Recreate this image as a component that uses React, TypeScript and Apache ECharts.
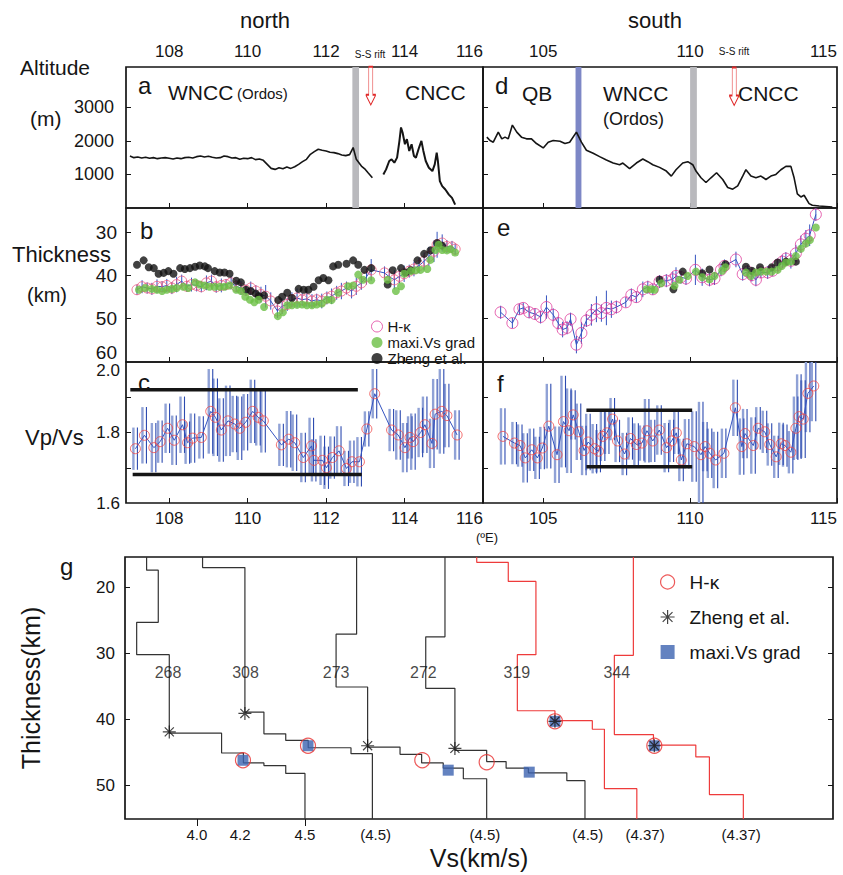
import React, { useEffect, useRef } from 'react';
import * as echarts from 'echarts';

const FONT = '"Liberation Sans", Arial, Helvetica, sans-serif';

// ---------- axis ranges and tick labels ----------
const northRange = [106.9, 116.0];
const southRange = [102.95, 115.0];
const northTicks = [108, 110, 112, 114, 116];
const southTicks = [105, 110, 115];
const altRange = [0, 4200];
const altTicks = [1000, 2000, 3000];
const thickRange = [24.4, 60];
const thickTicks = [30, 40, 50];
const thickLabels = [30, 40, 50, 60];
const vpvsRange = [1.6, 2.0];
const vpvsTicks = [1.7, 1.8, 1.9];
const vpvsLabels = [1.6, 1.8, 2.0];
const gDepthRange = [15.4, 55.1];
const gDepthTicks = [20, 30, 40, 50];
const gVsRange = [3.667, 6.944];
const gVsLabelPos = [4.0, 4.2, 4.5, 4.827, 5.333, 5.809, 6.074, 6.519];
const gVsLabelText = ['4.0', '4.2', '4.5', '(4.5)', '(4.5)', '(4.5)', '(4.37)', '(4.37)'];
const gVsTickPos = [4.0, 4.5];

// ---------- panel a / d : topography [lon, altitude m] ----------
const topoNorthWest = [
  [107.0, 1550], [107.1, 1500], [107.2, 1520], [107.3, 1490], [107.4, 1510], [107.5, 1480], [107.6, 1500],
  [107.7, 1470], [107.8, 1490], [107.9, 1500], [108.0, 1480], [108.1, 1460], [108.2, 1490], [108.3, 1470],
  [108.4, 1500], [108.5, 1510], [108.6, 1490], [108.7, 1530], [108.8, 1550], [108.9, 1520], [109.0, 1540],
  [109.1, 1510], [109.2, 1490], [109.3, 1500], [109.4, 1550], [109.5, 1530], [109.6, 1490], [109.7, 1500],
  [109.8, 1450], [109.9, 1480], [110.0, 1470], [110.1, 1500], [110.2, 1440], [110.3, 1460], [110.4, 1420],
  [110.5, 1300], [110.6, 1180], [110.7, 1150], [110.8, 1200], [110.9, 1170], [111.0, 1220], [111.1, 1180],
  [111.2, 1230], [111.3, 1300], [111.4, 1380], [111.5, 1450], [111.6, 1600], [111.7, 1680], [111.8, 1750],
  [111.9, 1720], [112.0, 1700], [112.1, 1660], [112.2, 1650], [112.3, 1620], [112.4, 1580], [112.5, 1560],
  [112.6, 1590], [112.69, 1800], [112.77, 1450], [112.9, 1250], [113.0, 1150], [113.07, 1050], [113.18, 900],
];
const topoNorthEast = [
  [113.46, 1000], [113.53, 1150], [113.61, 1400], [113.67, 1450], [113.74, 1350], [113.81, 1500], [113.87, 2000],
  [113.91, 2400], [113.95, 2250], [114.01, 1900], [114.06, 2050], [114.12, 1700], [114.18, 1900], [114.24, 1550],
  [114.29, 1500], [114.37, 1800], [114.43, 2000], [114.48, 1700], [114.54, 1400], [114.62, 1200], [114.71, 1100],
  [114.77, 1300], [114.82, 1650], [114.85, 1400], [114.9, 800], [114.96, 650], [115.04, 550], [115.13, 400],
  [115.21, 300], [115.29, 100],
];
const topoSouth = [
  [103.08, 2110], [103.19, 2010], [103.30, 1960], [103.47, 2260], [103.59, 2060], [103.70, 2110], [103.81, 2060],
  [103.95, 2470], [104.10, 2260], [104.26, 2110], [104.43, 2060], [104.60, 2060], [104.77, 1920], [105.00, 1790],
  [105.17, 1960], [105.34, 2010], [105.57, 1990], [105.74, 1920], [105.90, 1960], [106.13, 2260], [106.30, 1960],
  [106.47, 1720], [106.70, 1630], [106.92, 1530], [107.15, 1430], [107.38, 1340], [107.60, 1290], [107.71, 1340],
  [107.94, 1170], [108.17, 1340], [108.39, 1460], [108.56, 1380], [108.73, 1290], [108.96, 1210], [109.19, 1100],
  [109.36, 950], [109.52, 1140], [109.75, 1340], [109.92, 1380], [110.09, 1290], [110.20, 1100], [110.37, 900],
  [110.54, 760], [110.71, 900], [110.90, 1050], [111.11, 850], [111.28, 610], [111.45, 560], [111.62, 660],
  [111.79, 950], [111.90, 1140], [112.07, 950], [112.24, 900], [112.41, 950], [112.58, 850], [112.75, 950],
  [112.92, 1000], [113.09, 1140], [113.26, 1240], [113.43, 1240], [113.54, 900], [113.65, 420], [113.77, 330],
  [113.88, 380], [114.05, 130], [114.16, 80], [114.39, 60], [114.84, 30],
];
const boundaryNorth = [[112.67, 112.84]]; // grey (S-S)
const boundarySouthBlue = [[106.1, 106.3]];
const boundarySouthGrey = [[110.0, 110.23]];
const riftArrowNorth = [113.14, 3640];
const riftArrowSouth = [111.5, 3620];

// ---------- panel b / e : crustal thickness [lon, km, err] ----------
const hkThickNorth = [
  [107.18, 43.3, 1.2], [107.31, 42.6, 1.5], [107.44, 42.9, 1.3], [107.56, 43.1, 1.4], [107.69, 42.5, 1.6],
  [107.82, 42.6, 1.3], [107.94, 42.3, 1.5], [108.07, 42.9, 1.4], [108.19, 42.1, 1.8], [108.32, 41.3, 1.5],
  [108.45, 42.5, 1.3], [108.57, 42.1, 1.6], [108.70, 42.3, 1.4], [108.82, 42.6, 1.3], [108.95, 41.7, 1.7],
  [109.08, 41.3, 1.5], [109.20, 42.6, 1.4], [109.33, 42.3, 1.6], [109.45, 42.1, 1.3], [109.58, 41.7, 1.5],
  [109.71, 42.5, 1.4], [109.83, 42.9, 1.6], [109.96, 43.4, 1.3], [110.08, 42.9, 1.5], [110.21, 43.6, 1.4],
  [110.34, 44.4, 1.8], [110.46, 44.8, 2.6], [110.59, 45.9, 2.0], [110.76, 48.2, 1.6], [110.88, 47.1, 1.8],
  [111.01, 46.7, 1.5], [111.13, 45.6, 1.7], [111.26, 45.2, 2.2], [111.39, 45.6, 1.5], [111.51, 45.4, 1.8],
  [111.64, 45.9, 1.6], [111.76, 45.6, 1.4], [111.89, 45.9, 1.7], [112.02, 45.2, 1.5], [112.14, 44.8, 1.8],
  [112.27, 44.0, 1.6], [112.39, 43.6, 1.9], [112.52, 42.9, 1.5], [112.65, 43.6, 1.7], [112.77, 42.5, 2.0],
  [112.90, 41.7, 1.6], [113.03, 40.3, 1.8], [113.15, 38.7, 2.5], [113.49, 39.4, 1.5], [113.61, 40.3, 1.8],
  [113.74, 41.0, 2.2], [113.87, 40.2, 1.6], [113.99, 39.6, 1.9], [114.12, 39.0, 1.5], [114.24, 38.5, 1.7],
  [114.37, 37.7, 1.8], [114.50, 36.7, 2.0], [114.62, 35.6, 2.2], [114.75, 34.4, 2.5], [114.83, 32.9, 3.0],
  [114.96, 32.5, 2.0], [115.08, 33.3, 1.5], [115.21, 33.4, 1.4], [115.29, 33.9, 1.3],
];
const gradThickNorth = [
  [107.23, 43.3], [107.39, 42.9], [107.56, 43.1], [107.69, 43.3], [107.82, 43.6], [107.94, 43.3], [108.07, 43.1],
  [108.19, 42.9], [108.36, 42.6], [108.49, 42.9], [108.66, 41.6], [108.78, 42.1], [108.91, 42.3], [109.03, 42.6],
  [109.16, 42.6], [109.29, 42.6], [109.41, 42.6], [109.54, 42.3], [109.71, 43.3], [109.83, 43.6], [109.94, 44.9],
  [110.06, 45.6], [110.17, 46.2], [110.28, 45.6], [110.42, 47.3], [110.77, 49.4], [110.90, 48.5], [111.01, 46.9],
  [111.13, 46.9], [111.26, 46.8], [111.39, 46.7], [111.51, 46.9], [111.64, 46.9], [111.76, 46.7], [111.89, 46.5],
  [112.02, 45.6], [112.14, 45.7], [112.31, 44.0], [112.56, 42.5], [112.69, 42.3], [112.82, 39.8], [112.94, 41.0],
  [113.15, 41.1], [113.57, 41.0], [113.78, 43.6], [113.91, 42.5], [113.99, 39.6], [114.16, 39.0], [114.29, 38.8],
  [114.41, 38.7], [114.58, 38.5], [114.66, 36.4], [114.79, 34.1], [114.87, 32.9], [114.96, 34.1], [115.08, 34.2],
  [115.17, 33.9], [115.29, 34.7],
];
const zhengThickNorth = [
  [107.18, 37.5], [107.35, 36.5], [107.48, 38.1], [107.61, 38.3], [107.73, 39.6], [107.86, 39.4], [107.98, 39.0],
  [108.11, 39.6], [108.28, 38.3], [108.40, 38.5], [108.53, 38.3], [108.66, 38.0], [108.78, 37.7], [108.91, 37.9],
  [108.99, 38.3], [109.16, 39.0], [109.29, 39.3], [109.41, 39.3], [109.54, 39.6], [109.71, 41.2], [109.83, 41.6],
  [109.96, 43.3], [110.08, 43.6], [110.21, 44.2], [110.29, 44.8], [110.42, 44.6], [110.78, 45.7], [110.88, 44.9],
  [111.01, 44.0], [111.13, 45.2], [111.30, 43.1], [111.43, 43.3], [111.55, 43.3], [111.68, 42.6], [111.81, 41.1],
  [111.93, 40.6], [112.06, 41.1], [112.18, 37.9], [112.31, 37.5], [112.52, 37.3], [112.69, 36.5], [112.82, 37.5],
  [112.98, 38.7], [113.15, 38.3], [113.57, 42.1], [113.70, 38.8], [113.91, 38.3], [114.03, 39.3], [114.16, 38.8],
  [114.33, 36.5], [114.50, 35.0], [114.66, 34.2], [114.83, 32.5], [114.96, 33.1],
];
const hkThickSouth = [
  [103.55, 48.5, 1.5], [103.95, 51.0, 1.2], [104.19, 47.8, 1.3], [104.32, 47.5, 1.2], [104.52, 48.5, 1.4],
  [104.72, 48.9, 1.3], [104.91, 49.6, 1.5], [105.11, 47.3, 2.7], [105.34, 49.1, 1.5], [105.51, 51.0, 1.5],
  [105.66, 52.5, 1.8], [105.81, 52.1, 1.5], [105.93, 50.1, 1.5], [106.13, 56.0, 2.0], [106.30, 53.3, 2.5],
  [106.47, 50.4, 1.5], [106.64, 49.1, 2.5], [106.81, 47.8, 3.0], [106.98, 48.7, 2.0], [107.15, 47.5, 4.0],
  [107.32, 47.8, 2.0], [107.49, 47.3, 1.5], [107.81, 46.2, 1.2], [108.00, 44.5, 1.5], [108.17, 45.0, 1.3],
  [108.39, 43.2, 1.8], [108.56, 42.7, 1.5], [108.73, 43.2, 1.3], [108.96, 41.4, 1.5], [109.19, 41.2, 1.5],
  [109.41, 40.9, 1.8], [109.52, 40.1, 2.0], [109.69, 40.4, 1.5], [109.86, 40.7, 1.5], [110.18, 38.7, 3.5],
  [110.41, 40.4, 2.0], [110.66, 41.0, 1.5], [110.83, 40.7, 1.5], [111.05, 38.7, 1.5], [111.17, 37.8, 1.5],
  [111.56, 36.3, 1.8], [111.79, 39.7, 1.5], [111.96, 39.1, 1.5], [112.10, 39.9, 1.5], [112.24, 41.0, 1.5],
  [112.41, 39.3, 1.3], [112.64, 39.3, 1.5], [112.81, 38.9, 1.3], [112.98, 37.6, 1.5], [113.14, 36.8, 1.5],
  [113.26, 36.1, 1.5], [113.43, 36.6, 1.8], [113.60, 34.9, 2.0], [113.77, 32.8, 2.0], [113.94, 31.5, 2.0],
  [114.07, 30.7, 2.5], [114.28, 25.9, 1.5],
];
const gradThickSouth = [
  [108.51, 43.2], [108.68, 43.2], [108.79, 43.3], [109.02, 41.8], [109.47, 42.4], [109.64, 41.0], [109.92, 40.1],
  [110.20, 39.1], [110.41, 40.4], [110.66, 40.9], [110.83, 40.1], [111.09, 38.9], [111.20, 38.1], [111.90, 39.3],
  [112.07, 40.1], [112.24, 39.3], [112.41, 39.1], [112.60, 39.1], [112.78, 39.1], [112.98, 38.7], [113.12, 37.8],
  [113.26, 37.0], [113.43, 36.8], [113.60, 35.5], [113.77, 33.8], [113.94, 32.6], [114.08, 31.8], [114.28, 28.9],
];
const zhengThickSouth = [
  [108.96, 41.0], [109.43, 43.2], [109.75, 39.1], [110.41, 39.5], [110.66, 38.6], [111.20, 37.4], [111.90, 38.0],
  [112.10, 38.9], [112.38, 38.1], [112.78, 38.1], [112.98, 37.0], [113.26, 36.8], [113.60, 36.8],
];

// ---------- panel c / f : Vp/Vs [lon, Vp/Vs, err] ----------
const vpvsNorth = [
  [107.14, 1.754, 0.06], [107.37, 1.792, 0.08], [107.61, 1.757, 0.07], [107.77, 1.774, 0.06], [107.96, 1.812, 0.07],
  [108.13, 1.778, 0.07], [108.34, 1.822, 0.08], [108.47, 1.771, 0.06], [108.60, 1.784, 0.07], [108.82, 1.786, 0.06],
  [109.06, 1.860, 0.12], [109.18, 1.843, 0.11], [109.33, 1.807, 0.09], [109.50, 1.833, 0.1], [109.67, 1.824, 0.08],
  [109.80, 1.812, 0.09], [109.95, 1.829, 0.08], [110.13, 1.860, 0.09], [110.27, 1.843, 0.08], [110.40, 1.833, 0.09],
  [110.86, 1.765, 0.06], [111.05, 1.781, 0.08], [111.20, 1.771, 0.08], [111.42, 1.729, 0.07], [111.63, 1.762, 0.08],
  [111.69, 1.721, 0.06], [111.91, 1.721, 0.07], [112.01, 1.700, 0.06], [112.16, 1.729, 0.06], [112.33, 1.748, 0.07],
  [112.52, 1.698, 0.05], [112.66, 1.717, 0.06], [112.85, 1.717, 0.07], [113.04, 1.810, 0.05], [113.24, 1.910, 0.07],
  [113.67, 1.807, 0.06], [113.84, 1.793, 0.07], [114.01, 1.757, 0.07], [114.14, 1.786, 0.06], [114.22, 1.774, 0.08],
  [114.41, 1.800, 0.07], [114.52, 1.822, 0.08], [114.70, 1.769, 0.07], [114.78, 1.852, 0.1], [114.95, 1.860, 0.12],
  [115.08, 1.848, 0.09], [115.34, 1.793, 0.07],
];
const vpvsSouth = [
  [103.63, 1.789, 0.08], [104.02, 1.770, 0.06], [104.21, 1.763, 0.06], [104.39, 1.728, 0.07], [104.61, 1.751, 0.06],
  [104.80, 1.728, 0.06], [104.97, 1.756, 0.06], [105.19, 1.818, 0.12], [105.47, 1.737, 0.08], [105.69, 1.831, 0.13],
  [105.88, 1.805, 0.12], [106.02, 1.850, 0.07], [106.21, 1.802, 0.08], [106.39, 1.749, 0.07], [106.53, 1.773, 0.08],
  [106.75, 1.754, 0.07], [106.88, 1.747, 0.06], [107.03, 1.789, 0.07], [107.17, 1.799, 0.06], [107.36, 1.838, 0.06],
  [107.53, 1.776, 0.06], [107.77, 1.739, 0.06], [107.97, 1.783, 0.06], [108.17, 1.766, 0.06], [108.36, 1.770, 0.05],
  [108.53, 1.805, 0.09], [108.73, 1.776, 0.06], [108.95, 1.807, 0.07], [109.20, 1.757, 0.07], [109.37, 1.776, 0.06],
  [109.53, 1.799, 0.06], [109.70, 1.722, 0.06], [109.89, 1.768, 0.07], [110.14, 1.760, 0.1], [110.37, 1.737, 0.15],
  [110.51, 1.760, 0.07], [110.67, 1.741, 0.07], [110.87, 1.722, 0.08], [111.15, 1.741, 0.07], [111.54, 1.870, 0.08],
  [111.76, 1.760, 0.08], [111.87, 1.797, 0.07], [112.15, 1.763, 0.08], [112.32, 1.812, 0.06], [112.54, 1.802, 0.06],
  [112.71, 1.766, 0.06], [112.93, 1.731, 0.06], [113.10, 1.768, 0.06], [113.23, 1.763, 0.06], [113.43, 1.744, 0.06],
  [113.60, 1.812, 0.09], [113.71, 1.845, 0.12], [113.85, 1.838, 0.11], [114.01, 1.911, 0.11], [114.21, 1.932, 0.1],
];
const vpvsBandNorth = [[[107.01, 1.921], [112.81, 1.921]], [[107.07, 1.681], [112.91, 1.681]]];
const vpvsBandSouth = [[[106.47, 1.863], [110.07, 1.863]], [[106.47, 1.703], [110.07, 1.703]]];

// ---------- panel g : shear-velocity profiles (Vs shifted for display) ----------
const stationNames = ['268', '308', '273', '272', '319', '344'];
const stationLabelPos = [[3.866, 32.9], [4.225, 32.9], [4.644, 32.9], [5.048, 32.9], [5.481, 32.9], [5.943, 32.9]];
const profileVs = [
  [3.767, 3.821, 3.721, 3.872, 4.114, 4.215, 4.310, 4.411, 4.500],
  [4.026, 4.222, 4.310, 4.411, 4.515, 4.713, 4.812],
  [4.739, 4.644, 4.790, 4.940, 5.040, 5.140, 5.233, 5.341],
  [5.148, 5.059, 5.194, 5.341, 5.431, 5.534, 5.712, 5.796],
  [5.295, 5.441, 5.569, 5.483, 5.657, 5.830, 5.886, 6.036],
  [6.020, 5.932, 6.113, 6.309, 6.372, 6.529],
];
const profileDepth = [
  [15.4, 17.4, 25.3, 30.2, 42.1, 45.1, 46.6, 47.0, 48.2, 55.1],
  [15.4, 17.0, 38.9, 42.2, 43.2, 44.3, 45.2, 55.1],
  [15.4, 27.1, 35.1, 44.2, 45.3, 46.6, 47.4, 49.0, 55.1],
  [15.4, 27.5, 35.3, 44.7, 46.4, 47.4, 48.1, 49.3, 55.1],
  [15.4, 16.2, 19.1, 30.2, 38.7, 40.2, 41.5, 50.5, 55.1],
  [15.4, 30.3, 42.3, 43.9, 45.7, 51.4, 55.1],
];
const profileIsRed = [false, false, false, false, true, true];
const gHk = [[4.213, 46.2], [4.514, 44.0], [5.043, 46.2], [5.341, 46.5], [5.657, 40.3], [6.117, 44.0]];
const gZheng = [[3.872, 41.9], [4.222, 39.1], [4.790, 44.0], [5.194, 44.4], [5.657, 40.3], [6.117, 44.0]];
const gGrad = [[4.213, 46.2], [4.514, 44.0], [5.163, 47.7], [5.538, 48.0], [5.657, 40.3], [6.117, 44.0]];

// ---------- styling ----------
const ARROW = 'path://M3,0L7,0L7,28L10,28L5,38L0,28L3,28Z';
const ASTER = 'path://M0,-1L0,1M-1,0L1,0M-0.7,-0.7L0.7,0.7M-0.7,0.7L0.7,-0.7';
const INK = '#151515';

function buildOption(): any {
  const lbl = (size: number) => ({ fontFamily: FONT, fontSize: size, color: INK });
  const noSplit = { show: false };
  const noLine = { show: false };
  const plain = (v: number) => String(v);

  const xBase = (grid: number, range: number[], ticks: number[], pos: string, inside: boolean, labels: boolean) => ({
    type: 'value', gridIndex: grid, position: pos, min: range[0], max: range[1],
    axisLine: noLine, splitLine: noSplit,
    axisTick: { show: true, inside, length: 5, customValues: ticks, lineStyle: { color: INK, width: 1 } },
    axisLabel: labels
      ? { show: true, customValues: ticks, margin: 7, alignMaxLabel: 'right', formatter: plain, ...lbl(17) }
      : { show: false },
  });
  const xAxis: any[] = [
    xBase(0, northRange, northTicks, 'top', false, true), // 0 a top
    xBase(0, northRange, northTicks, 'bottom', true, false), // 1 a bottom
    xBase(1, northRange, northTicks, 'bottom', true, false), // 2 b
    xBase(2, northRange, northTicks, 'bottom', true, true), // 3 c
    xBase(3, southRange, southTicks, 'top', false, true), // 4 d top
    xBase(3, southRange, southTicks, 'bottom', true, false), // 5 d bottom
    xBase(4, southRange, southTicks, 'bottom', true, false), // 6 e
    xBase(5, southRange, southTicks, 'bottom', true, true), // 7 f
    {
      type: 'value', gridIndex: 6, position: 'bottom', min: gVsRange[0], max: gVsRange[1],
      axisLine: noLine, splitLine: noSplit,
      axisTick: { show: true, inside: false, length: 7, customValues: gVsTickPos, lineStyle: { color: INK } },
      axisLabel: {
        show: true, customValues: gVsLabelPos, margin: 8, ...lbl(15),
        formatter: (v: number) => {
          const i = gVsLabelPos.findIndex((p) => Math.abs(p - v) < 1e-3);
          return i >= 0 ? gVsLabelText[i] : '';
        },
      },
      name: 'Vs(km/s)', nameLocation: 'middle', nameGap: 26,
      nameTextStyle: { fontFamily: FONT, fontSize: 25, color: INK },
    }, // 8 g
  ];

  const yBase = (grid: number, range: number[], ticks: number[], pos: string, inverse: boolean, labels: any) => ({
    type: 'value', gridIndex: grid, position: pos, min: range[0], max: range[1], inverse,
    axisLine: noLine, splitLine: noSplit,
    axisTick: { show: true, inside: true, length: 5, customValues: ticks, lineStyle: { color: INK } },
    axisLabel: labels || { show: false },
  });
  const yAxis: any[] = [
    yBase(0, altRange, altTicks, 'left', false, {
      show: true, customValues: altTicks, margin: 12, formatter: plain, ...lbl(18),
    }), // 0 a
    yBase(1, thickRange, thickTicks, 'left', true, {
      show: true, customValues: thickLabels, margin: 9, verticalAlignMaxLabel: 'bottom', formatter: plain, ...lbl(19),
    }), // 1 b
    yBase(2, vpvsRange, vpvsTicks, 'left', false, {
      show: true, customValues: vpvsLabels, margin: 6, verticalAlignMaxLabel: 'top', ...lbl(17),
      formatter: (v: number) => v.toFixed(1),
    }), // 2 c
    yBase(3, altRange, altTicks, 'right', false, null), // 3 d right
    yBase(3, altRange, altTicks, 'left', false, null), // 4 d left
    yBase(4, thickRange, thickTicks, 'right', true, null), // 5 e right
    yBase(4, thickRange, thickTicks, 'left', true, null), // 6 e left
    yBase(5, vpvsRange, vpvsTicks, 'right', false, null), // 7 f right
    yBase(5, vpvsRange, vpvsTicks, 'left', false, null), // 8 f left
    {
      ...yBase(6, gDepthRange, gDepthTicks, 'left', true, {
        show: true, customValues: gDepthTicks, margin: 10, formatter: plain, ...lbl(17),
      }),
      name: 'Thickness(km)', nameLocation: 'middle', nameGap: 82,
      nameTextStyle: { fontFamily: FONT, fontSize: 25, color: INK },
    }, // 9 g
    yBase(6, gDepthRange, gDepthTicks, 'right', true, null), // 10 g right
  ];

  const gridStyle = { show: true, borderColor: INK, borderWidth: 1.7, backgroundColor: 'transparent' };
  const grid = [
    { left: 126, top: 67, width: 357, height: 141, ...gridStyle },
    { left: 126, top: 208, width: 357, height: 154, ...gridStyle },
    { left: 126, top: 362, width: 357, height: 141, ...gridStyle },
    { left: 483, top: 67, width: 354, height: 141, ...gridStyle },
    { left: 483, top: 208, width: 354, height: 154, ...gridStyle },
    { left: 483, top: 362, width: 354, height: 141, ...gridStyle },
    { left: 125, top: 557, width: 708, height: 262, ...gridStyle },
  ];

  const errBars = (xi: number, yi: number, data: number[][], color: string, width: number, dx: number) => ({
    type: 'custom', xAxisIndex: xi, yAxisIndex: yi, data, clip: true, silent: true, z: 2,
    encode: { x: 0, y: 1 },
    renderItem: (_p: any, api: any) => {
      const x = api.value(0);
      const y = api.value(1);
      const e = api.value(2);
      const a = api.coord([x, y - e]);
      const b = api.coord([x, y + e]);
      return {
        type: 'line',
        shape: { x1: a[0] + dx, y1: a[1], x2: b[0] + dx, y2: b[1] },
        style: { stroke: color, lineWidth: width },
      };
    },
  });
  const blueLine = (xi: number, yi: number, data: number[][]) => ({
    type: 'line', xAxisIndex: xi, yAxisIndex: yi, data, symbol: 'none', silent: true, z: 3,
    lineStyle: { color: '#3554c0', width: 1 },
  });
  const hollow = (name: string, xi: number, yi: number, data: number[][], color: string, size: number) => ({
    type: 'scatter', name, xAxisIndex: xi, yAxisIndex: yi, data, symbol: 'circle', symbolSize: size, z: 4,
    itemStyle: { color: 'rgba(255,255,255,0)', borderColor: color, borderWidth: 1 },
  });
  const dots = (name: string, xi: number, yi: number, data: number[][], color: string, size: number, z: number) => ({
    type: 'scatter', name, xAxisIndex: xi, yAxisIndex: yi, data, symbol: 'circle', symbolSize: size, z,
    itemStyle: { color },
  });
  const band = (xi: number, yi: number, seg: number[][]) => ({
    type: 'line', xAxisIndex: xi, yAxisIndex: yi, data: seg, symbol: 'none', silent: true, z: 5,
    lineStyle: { color: INK, width: 3.5 },
  });
  const arrowMark = (coord: number[]) => ({
    silent: true, symbol: ARROW, symbolSize: [10, 38], label: { show: false },
    itemStyle: { color: '#ffffff', borderColor: '#e02828', borderWidth: 1 },
    data: [{ coord }],
  });

  const series: any[] = [];
  // ---- a
  series.push({
    type: 'line', xAxisIndex: 0, yAxisIndex: 0, data: topoNorthWest, symbol: 'none', z: 3,
    lineStyle: { color: INK, width: 1.6 },
    markArea: {
      silent: true, itemStyle: { color: '#b9b9bd' },
      data: boundaryNorth.map((b) => [{ xAxis: b[0] }, { xAxis: b[1] }]),
    },
    markPoint: arrowMark(riftArrowNorth),
  });
  series.push({
    type: 'line', xAxisIndex: 0, yAxisIndex: 0, data: topoNorthEast, symbol: 'none', z: 3,
    lineStyle: { color: INK, width: 2 },
  });
  // ---- d
  series.push({
    type: 'line', xAxisIndex: 4, yAxisIndex: 3, data: topoSouth, symbol: 'none', z: 3,
    lineStyle: { color: INK, width: 1.6 },
    markArea: {
      silent: true,
      data: [
        ...boundarySouthBlue.map((b) => [{ xAxis: b[0], itemStyle: { color: '#7d87c6' } }, { xAxis: b[1] }]),
        ...boundarySouthGrey.map((b) => [{ xAxis: b[0], itemStyle: { color: '#b9b9bd' } }, { xAxis: b[1] }]),
      ],
    },
    markPoint: arrowMark(riftArrowSouth),
  });
  // ---- b
  series.push(errBars(2, 1, hkThickNorth, '#3554c0', 1, 0));
  series.push(blueLine(2, 1, hkThickNorth));
  series.push(hollow('H-κ', 2, 1, hkThickNorth, '#ee5a80', 10));
  series.push(dots('Zheng et al.', 2, 1, zhengThickNorth, '#111111', 8, 5));
  series.push(dots('maxi.Vs grad', 2, 1, gradThickNorth, '#6cbf45', 8, 6));
  // ---- e
  series.push(errBars(6, 5, hkThickSouth, '#3554c0', 1, 0));
  series.push(blueLine(6, 5, hkThickSouth));
  series.push(hollow('H-κ', 6, 5, hkThickSouth, '#e03c9c', 11));
  series.push(dots('Zheng et al.', 6, 5, zhengThickSouth, '#111111', 8, 5));
  series.push(dots('maxi.Vs grad', 6, 5, gradThickSouth, '#6cbf45', 8, 6));
  // ---- c
  series.push(errBars(3, 2, vpvsNorth, '#90a2d6', 2.4, -2));
  series.push(errBars(3, 2, vpvsNorth, '#2c4ab0', 1.1, 2));
  series.push(blueLine(3, 2, vpvsNorth));
  series.push(hollow('c-hk', 3, 2, vpvsNorth, '#f04848', 10));
  vpvsBandNorth.forEach((seg) => series.push(band(3, 2, seg)));
  // ---- f
  series.push(errBars(7, 7, vpvsSouth, '#90a2d6', 2.4, -2));
  series.push(errBars(7, 7, vpvsSouth, '#2c4ab0', 1.1, 2));
  series.push(blueLine(7, 7, vpvsSouth));
  series.push(hollow('f-hk', 7, 7, vpvsSouth, '#f04848', 10));
  vpvsBandSouth.forEach((seg) => series.push(band(7, 7, seg)));
  // ---- g profiles
  profileVs.forEach((vs, k) => {
    const z = profileDepth[k];
    const pts: number[][] = [];
    vs.forEach((v, i) => {
      pts.push([v, z[i]]);
      pts.push([v, z[i + 1]]);
    });
    series.push({
      type: 'line', xAxisIndex: 8, yAxisIndex: 9, data: pts, symbol: 'none', silent: true, z: 2,
      lineStyle: { color: profileIsRed[k] ? '#ee3b3b' : '#333333', width: 1.2 },
    });
  });
  series.push({
    type: 'scatter', name: 'g:maxi.Vs grad', xAxisIndex: 8, yAxisIndex: 9, data: gGrad,
    symbol: 'rect', symbolSize: 11, z: 4, itemStyle: { color: '#3c63b0' },
  });
  series.push({
    type: 'scatter', name: 'g:H-κ', xAxisIndex: 8, yAxisIndex: 9, data: gHk,
    symbol: 'circle', symbolSize: 15, z: 5,
    itemStyle: { color: 'rgba(255,255,255,0)', borderColor: '#e83030', borderWidth: 1.2 },
  });
  series.push({
    type: 'scatter', name: 'g:Zheng et al.', xAxisIndex: 8, yAxisIndex: 9, data: gZheng,
    symbol: ASTER, symbolSize: 13, z: 6,
    itemStyle: { color: INK, borderColor: INK, borderWidth: 1.2 },
  });
  series.push({
    type: 'scatter', name: 'stations', xAxisIndex: 8, yAxisIndex: 9, silent: true, z: 7,
    data: stationNames.map((n, i) => ({ name: n, value: stationLabelPos[i] })),
    symbolSize: 1, itemStyle: { color: 'rgba(0,0,0,0)' },
    label: { show: true, position: 'inside', formatter: '{b}', fontFamily: FONT, fontSize: 16, color: INK },
  });

  const legend = [
    {
      orient: 'vertical', left: 366, top: 314, itemWidth: 11, itemHeight: 11, itemGap: 1,
      textStyle: { fontFamily: FONT, fontSize: 15, color: INK, lineHeight: 14 },
      selectedMode: false,
      data: [
        { name: 'H-κ', icon: 'circle', itemStyle: { color: '#ffffff', borderColor: '#e03c9c', borderWidth: 1 } },
        { name: 'maxi.Vs grad', icon: 'circle', itemStyle: { color: '#6cbf45' } },
        { name: 'Zheng et al.', icon: 'circle', itemStyle: { color: '#111111' } },
      ],
    },
    {
      orient: 'vertical', left: 655, top: 566, itemWidth: 14, itemHeight: 14, itemGap: 13,
      textStyle: { fontFamily: FONT, fontSize: 19, color: INK, lineHeight: 22, padding: [0, 0, 0, 10] },
      selectedMode: false,
      formatter: (n: string) => n.replace('g:', ''),
      data: [
        { name: 'g:H-κ', icon: 'circle', itemStyle: { color: '#ffffff', borderColor: '#e83030', borderWidth: 1.2 } },
        { name: 'g:Zheng et al.', icon: ASTER, itemStyle: { color: INK, borderColor: INK, borderWidth: 1.2 } },
        { name: 'g:maxi.Vs grad', icon: 'rect', itemStyle: { color: '#3c63b0' } },
      ],
    },
  ];

  const txt = (text: string, x: number, y: number, size: number, align = 'left') => ({
    type: 'text', x, y, silent: true,
    style: {
      text, fontFamily: FONT, fontSize: size, fill: INK,
      align, textAlign: align, verticalAlign: 'middle', textVerticalAlign: 'middle',
    },
  });
  const graphic = {
    elements: [
      txt('north', 265, 20, 22, 'center'),
      txt('south', 655, 20, 22, 'center'),
      txt('Altitude', 20, 67, 21),
      txt('(m)', 30, 118, 21),
      txt('Thickness', 12, 254, 22),
      txt('(km)', 27, 295, 20),
      txt('Vp/Vs', 25, 437, 22),
      txt('S-S rift', 370, 54, 10, 'center'),
      txt('S-S rift', 734, 51, 10, 'center'),
      txt('(ºE)', 487, 537, 13, 'center'),
      txt('a', 138, 85, 24),
      txt('WNCC', 168, 92, 21),
      txt('(Ordos)', 237, 93, 15),
      txt('CNCC', 405, 92, 21),
      txt('d', 495, 85, 24),
      txt('QB', 522, 93, 21),
      txt('WNCC', 603, 93, 21),
      txt('(Ordos)', 603, 119, 18),
      txt('CNCC', 738, 93, 21),
      txt('b', 140, 230, 24),
      txt('e', 497, 227, 24),
      txt('c', 138, 382, 24),
      txt('f', 497, 383, 24),
      txt('g', 60, 566, 24),
    ],
  };

  return {
    animation: false,
    backgroundColor: '#ffffff',
    textStyle: { fontFamily: FONT },
    grid, xAxis, yAxis, series, legend, graphic,
  };
}

export default function App() {
  const ref = useRef<HTMLDivElement>(null);
  useEffect(() => {
    document.body.style.margin = '0';
    const chart = echarts.init(ref.current as HTMLDivElement, null, { renderer: 'svg' });
    chart.setOption(buildOption());
    return () => chart.dispose();
  }, []);
  return <div ref={ref} style={{ width: 843, height: 875, background: '#fff' }} />;
}
